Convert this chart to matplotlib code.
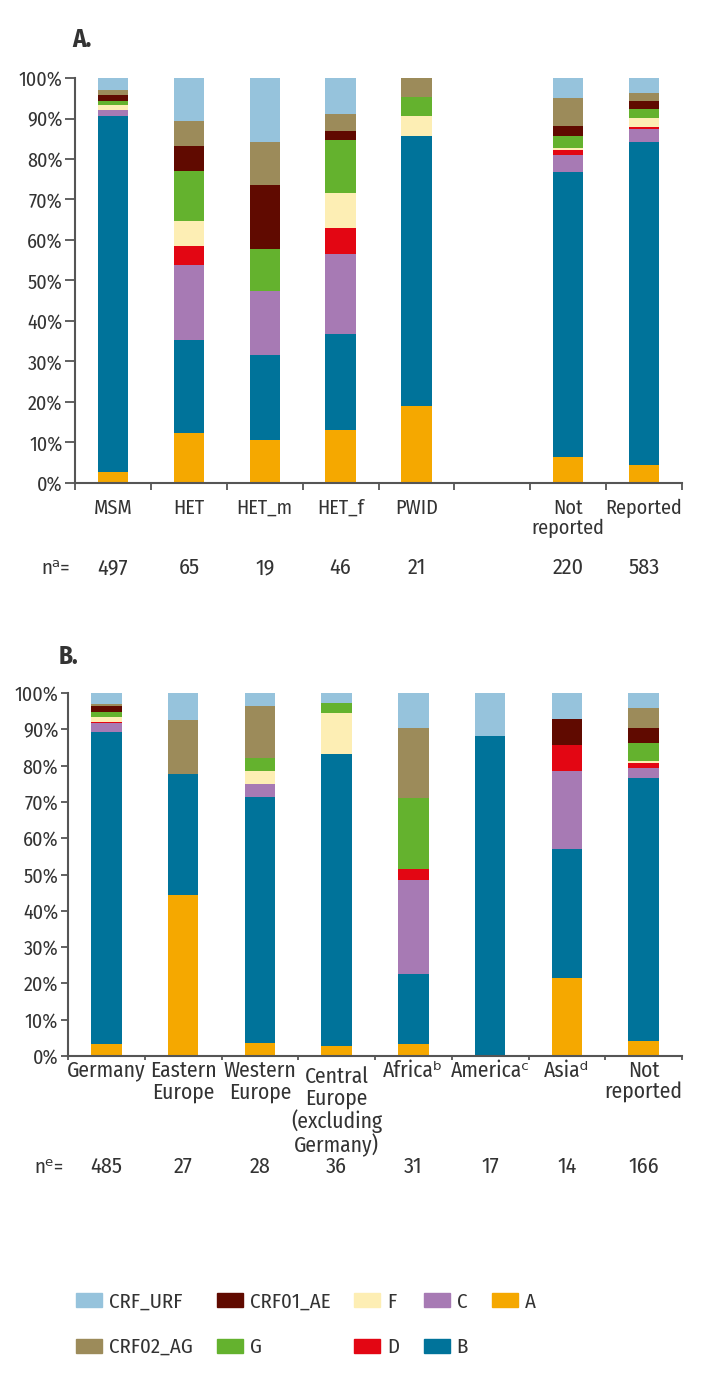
import numpy as np
import matplotlib
matplotlib.use('Agg')
import matplotlib.pyplot as plt
import matplotlib.transforms as mtrans
from matplotlib.patches import Patch

plt.rcParams['font.family'] = ['Fira Sans Condensed', 'DejaVu Sans']
TXT = '#333333'

# subtypes, bottom to top of each stack
subtypes = ['A', 'B', 'C', 'D', 'F', 'G', 'CRF01_AE', 'CRF02_AG', 'CRF_URF']
colors = ['#f5a800', '#00739a', '#a77ab4', '#e30613', '#fdeeb4',
          '#64b22e', '#600a00', '#9c8b5a', '#96c3dc']

# panel A: transmission route (percent per subtype)
cats_a = ['MSM', 'HET', 'HET_m', 'HET_f', 'PWID', '', 'Not\nreported', 'Reported']
n_a = ['497', '65', '19', '46', '21', '', '220', '583']
pct_a = {
    'A':        [2.7, 12.3, 10.5, 13.0, 19.0, 0, 6.3, 4.4],
    'B':        [87.8, 23.1, 21.1, 23.9, 66.7, 0, 70.4, 79.7],
    'C':        [1.5, 18.5, 15.8, 19.6, 0, 0, 4.2, 3.4],
    'D':        [0.0, 4.6, 0, 6.5, 0, 0, 1.3, 0.5],
    'F':        [1.4, 6.2, 0, 8.7, 4.8, 0, 0.4, 2.2],
    'G':        [0.9, 12.3, 10.5, 13.0, 4.8, 0, 3.2, 2.2],
    'CRF01_AE': [1.4, 6.2, 15.8, 2.2, 0, 0, 2.3, 1.8],
    'CRF02_AG': [1.4, 6.1, 10.5, 4.3, 4.7, 0, 6.9, 2.1],
    'CRF_URF':  [2.9, 10.7, 15.8, 8.8, 0, 0, 5.0, 3.7],
}

# panel B: region of origin
cats_b = ['Germany', 'Eastern\nEurope', 'Western\nEurope', 'Central\nEurope\n(excluding\nGermany)',
          'Africa\u1d47', 'America\u1d9c', 'Asia\u1d48', 'Not\nreported']
n_b = ['485', '27', '28', '36', '31', '17', '14', '166']
pct_b = {
    'A':        [3.3, 44.4, 3.6, 2.8, 3.2, 0, 21.4, 4.2],
    'B':        [86.0, 33.4, 67.8, 80.5, 19.4, 88.2, 35.7, 72.3],
    'C':        [2.4, 0, 3.6, 0, 25.8, 0, 21.5, 2.9],
    'D':        [0.3, 0, 0, 0, 3.2, 0, 7.1, 1.3],
    'F':        [1.5, 0, 3.6, 11.1, 0, 0, 0, 0.6],
    'G':        [1.2, 0, 3.6, 2.8, 19.4, 0, 0, 4.8],
    'CRF01_AE': [1.6, 0, 0, 0, 0, 0, 7.1, 4.2],
    'CRF02_AG': [0.8, 14.8, 14.2, 0, 19.3, 0, 0, 5.5],
    'CRF_URF':  [2.9, 7.4, 3.6, 2.8, 9.7, 11.8, 7.2, 4.2],
}

fig = plt.figure(figsize=(7.07, 13.73), dpi=100)
axA = fig.add_axes([75/707, 1 - 483/1373, 607/707, 405/1373])
axB = fig.add_axes([68/707, 1 - 1056/1373, 614/707, 363/1373])


def stacked(ax, cats, pct, nlab, nprefix, ny, lsize, lspace, lpad, tlen):
    x = np.arange(len(cats))
    bottom = np.zeros(len(cats))
    for s, c in zip(subtypes, colors):
        v = np.array(pct[s])
        ax.bar(x, v, 0.4, bottom=bottom, color=c, linewidth=0, label=s)
        bottom += v
    ax.set_xlim(-0.5, len(cats) - 0.5)
    ax.set_ylim(0, 100)
    ax.set_yticks(np.arange(0, 101, 10))
    ax.set_yticklabels(['%d%%' % t for t in range(0, 101, 10)], fontsize=14.5, color=TXT)
    ax.set_xticks(np.arange(-0.5, len(cats), 1))
    ax.set_xticklabels([])
    ax.set_xticks(x, minor=True)
    ax.set_xticklabels(cats, minor=True, fontsize=lsize, color=TXT, linespacing=lspace)
    ax.tick_params(axis='x', which='minor', length=0, pad=lpad)
    ax.tick_params(axis='x', which='major', length=tlen, width=1.3, color='#555555')
    ax.tick_params(axis='y', length=tlen + 2, width=1.3, color='#555555', pad=2)
    for sp in ['top', 'right']:
        ax.spines[sp].set_visible(False)
    for sp in ['left', 'bottom']:
        ax.spines[sp].set_color('#555555')
        ax.spines[sp].set_linewidth(1.5)
    tr = ax.get_xaxis_transform()
    for i, t in enumerate(nlab):
        ax.text(i, ny, t, transform=tr, ha='center', va='center', fontsize=16, color=TXT)
    ax.text(-0.56, ny, nprefix, transform=tr, ha='right', va='center', fontsize=15, color=TXT)


stacked(axA, cats_a, pct_a, n_a, 'n\u1d43=', -0.21, 14.5, 1.05, 11, 5)
stacked(axB, cats_b, pct_b, n_b, 'n\u1d49=', -0.306, 15.5, 1.02, 3, 3)

# the four-line label sits a little lower in the original
lbl = axB.xaxis.get_minorticklabels()[3]
lbl.set_transform(lbl.get_transform() + mtrans.ScaledTranslation(0, -6/100, fig.dpi_scale_trans))

fig.text(72/707, 1 - 40/1373, 'A.', fontsize=18, fontweight='bold', color=TXT, va='center')
fig.text(59/707, 1 - 657/1373, 'B.', fontsize=18, fontweight='bold', color=TXT, va='center')

handles = [Patch(color=c, label=s) for s, c in zip(subtypes, colors)][::-1]
fig.legend(handles=handles, ncol=5, loc='upper left', bbox_to_anchor=(76/707, 1 - 1292/1373),
           frameon=False, fontsize=15, handlelength=1.25, handleheight=0.62, borderpad=0,
           borderaxespad=0, columnspacing=1.15, labelspacing=1.25, handletextpad=0.34,
           labelcolor=TXT)

fig.savefig('out.png', dpi=100)
